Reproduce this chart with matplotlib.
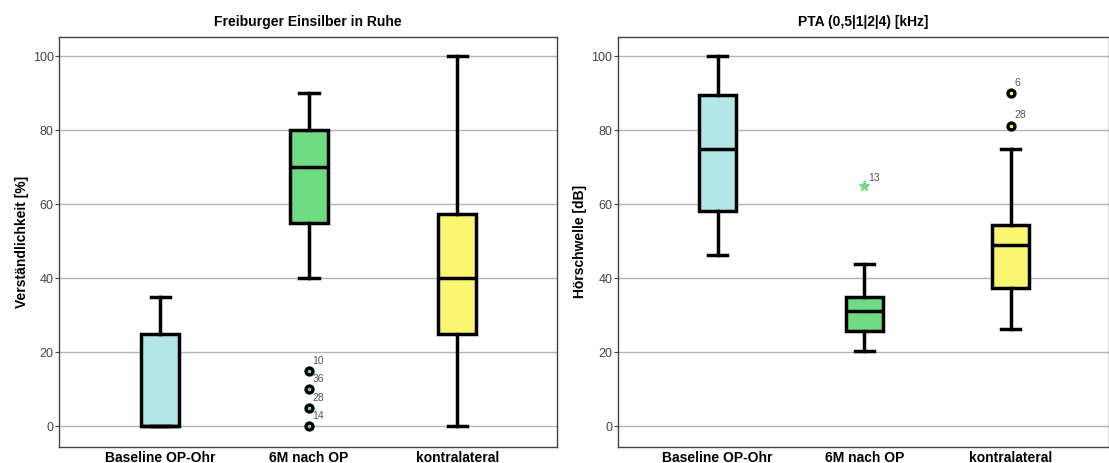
import matplotlib.pyplot as plt

plt.rcParams['font.family'] = ['Liberation Sans', 'DejaVu Sans']

groups = ['Baseline OP-Ohr', '6M nach OP', 'kontralateral']
colors = ['#b3e6e8', '#6fdc83', '#faf671']

# left panel: Freiburger Einsilber in Ruhe  (whislo, q1, med, q3, whishi)
fb_stats = [[0, 0, 0, 25, 35],
            [40, 55, 70, 80, 90],
            [0, 25, 40, 57.5, 100]]
fb_outliers = {2: [(15, '10'), (10, '36'), (5, '28'), (0, '14')]}

# right panel: PTA
pta_stats = [[46.3, 58.1, 75, 89.5, 100],
             [20.3, 25.9, 31.2, 34.9, 43.8],
             [26.3, 37.5, 48.9, 54.4, 75]]
pta_outliers = {3: [(90, '6'), (81.3, '28')]}
pta_extremes = {2: [(65, '13')]}

fig = plt.figure(figsize=(11.09, 4.63), dpi=100)
ax1 = fig.add_axes([0.0535, 0.035, 0.4487, 0.885])
ax2 = fig.add_axes([0.5573, 0.035, 0.4427, 0.885])


def draw_panel(ax, stats, outliers, extremes, title, ylabel):
    bxp_stats = []
    for s in stats:
        bxp_stats.append(dict(whislo=s[0], q1=s[1], med=s[2], q3=s[3], whishi=s[4], fliers=[]))
    bp = ax.bxp(bxp_stats, positions=[1, 2, 3], widths=0.255, patch_artist=True,
                showfliers=False,
                boxprops=dict(edgecolor='k', linewidth=2.5),
                medianprops=dict(color='k', linewidth=2.5),
                whiskerprops=dict(color='k', linewidth=2.5),
                capprops=dict(color='k', linewidth=2.5), capwidths=0.13)
    for patch, c in zip(bp['boxes'], colors):
        patch.set_facecolor(c)
    for pos, pts in outliers.items():
        for y, lab in pts:
            ax.plot(pos, y, 'o', ms=5, mfc=colors[pos - 1], mec='k', mew=2.4, zorder=5)
            ax.text(pos + 0.025, y + 2.0, lab, fontsize=7.5, color='#555555')
    for pos, pts in extremes.items():
        for y, lab in pts:
            ax.plot(pos, y, '*', ms=8, color=colors[pos - 1], zorder=5)
            ax.text(pos + 0.025, y + 1.3, lab, fontsize=7.5, color='#555555')

    ax.set_xlim(0.32, 3.67)
    ax.set_ylim(-5.5, 105.2)
    ax.set_yticks([0, 20, 40, 60, 80, 100])
    ax.yaxis.grid(True, color='#b4b4b4', linewidth=1)
    ax.set_axisbelow(True)
    ax.set_xticks([1, 2, 3])
    ax.set_xticklabels(groups, fontsize=10, fontweight='bold')
    ax.tick_params(axis='x', length=0, pad=3)
    ax.tick_params(axis='y', length=3, labelsize=9, labelcolor='#444444', color='#444444', pad=1)
    for sp in ax.spines.values():
        sp.set_color('#444444')
        sp.set_linewidth(1)
    ax.set_title(title, fontsize=10, fontweight='bold', pad=8)
    ax.set_ylabel(ylabel, fontsize=10, fontweight='bold', labelpad=3)


draw_panel(ax1, fb_stats, fb_outliers, {}, 'Freiburger Einsilber in Ruhe', 'Verständlichkeit [%]')
draw_panel(ax2, pta_stats, pta_outliers, pta_extremes, 'PTA (0,5|1|2|4) [kHz]', 'Hörschwelle [dB]')

fig.savefig('out.png', dpi=100)
